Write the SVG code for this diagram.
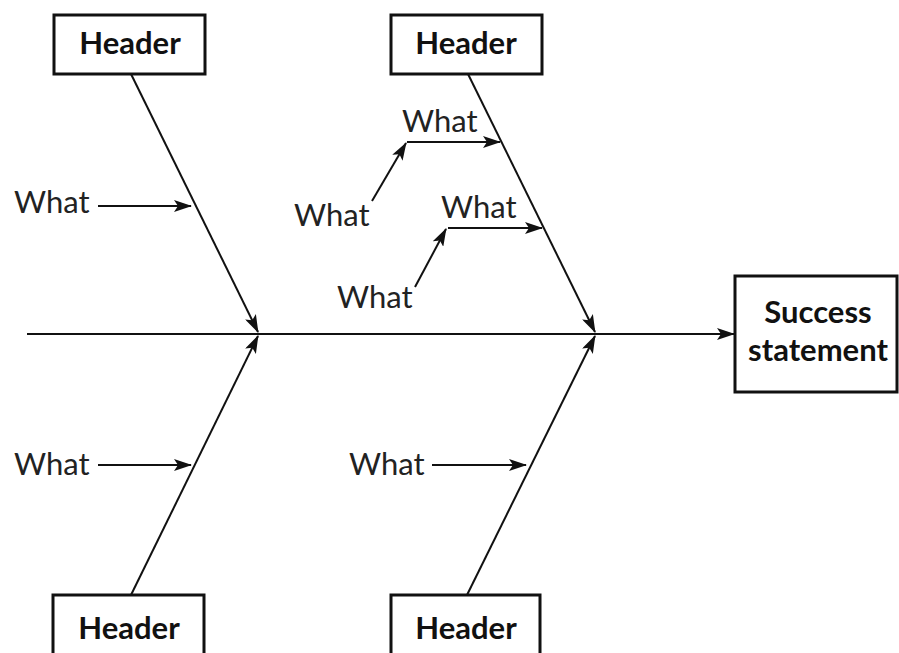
<svg xmlns="http://www.w3.org/2000/svg" width="899" height="653" viewBox="0 0 899 653">
<style>
.box{fill:#fff;stroke:#111;stroke-width:3}
.hd{font-family:Lato,"Open Sans",sans-serif;font-weight:bold;font-size:31px;fill:#111;text-anchor:middle}
.wt{font-family:Lato,"Open Sans",sans-serif;font-size:31px;fill:#222}
.ln{stroke:#111;stroke-width:2;fill:none}
.ar{stroke:#111;stroke-width:2;fill:none;marker-end:url(#ah)}
</style>
<defs>
<marker id="ah" markerUnits="userSpaceOnUse" markerWidth="18" markerHeight="12" viewBox="0 0 18 12" refX="17" refY="6" orient="auto">
<path d="M0,0 L18,6 L0,12 L4,6 Z" fill="#111"/>
</marker>
</defs>
<g id="connectors">
<line class="ar" x1="27" y1="334" x2="734" y2="334"/>
<line class="ar" x1="131" y1="74" x2="258" y2="332"/>
<line class="ar" x1="468" y1="74" x2="595" y2="332"/>
<line class="ar" x1="131" y1="595" x2="258" y2="336"/>
<line class="ar" x1="467" y1="595" x2="595" y2="336"/>
<line class="ar" x1="98" y1="206" x2="191" y2="206"/>
<line class="ar" x1="98" y1="465" x2="191" y2="465"/>
<line class="ar" x1="432" y1="465" x2="526" y2="465"/>
<line class="ar" x1="407" y1="142" x2="500" y2="142"/>
<line class="ar" x1="372" y1="201" x2="406" y2="143"/>
<line class="ar" x1="448" y1="228" x2="542" y2="228"/>
<line class="ar" x1="415" y1="287" x2="446" y2="229"/>
</g>
<g id="header-top-left"><rect class="box" x="54" y="15" width="151" height="59"/><text class="hd" x="130" y="54">Header</text></g>
<g id="header-top-right"><rect class="box" x="391" y="15" width="151" height="59"/><text class="hd" x="466" y="54">Header</text></g>
<g id="header-bottom-left"><rect class="box" x="53" y="595" width="151" height="70"/><text class="hd" x="129" y="639">Header</text></g>
<g id="header-bottom-right"><rect class="box" x="391" y="595" width="149" height="70"/><text class="hd" x="466" y="639">Header</text></g>
<g id="success"><rect class="box" x="735" y="276" width="162" height="116"/><text class="hd" x="818" y="323">Success</text><text class="hd" x="818" y="361">statement</text></g>
<g id="what-left-top"><text class="wt" x="14" y="213">What</text></g>
<g id="what-left-bottom"><text class="wt" x="14" y="475">What</text></g>
<g id="what-right-bottom"><text class="wt" x="349" y="475">What</text></g>
<g id="what-a1"><text class="wt" x="402" y="132">What</text></g>
<g id="what-a2"><text class="wt" x="294" y="226">What</text></g>
<g id="what-b1"><text class="wt" x="441" y="218">What</text></g>
<g id="what-b2"><text class="wt" x="337" y="308">What</text></g>
</svg>
